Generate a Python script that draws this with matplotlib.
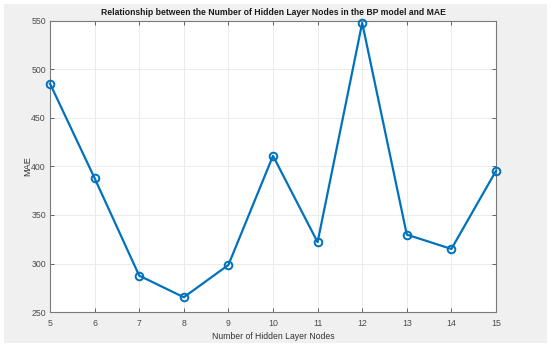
import matplotlib.pyplot as plt
from matplotlib.patches import Rectangle

plt.rcParams['font.family'] = ['Liberation Sans', 'DejaVu Sans']

# hidden layer nodes vs MAE
nodes = [5, 6, 7, 8, 9, 10, 11, 12, 13, 14, 15]
mae = [485.5, 388, 287.5, 265.2, 298.5, 411, 322, 548, 329.8, 315, 395.5]
xticks = list(range(5, 16))
yticks = [250, 300, 350, 400, 450, 500, 550]

fig = plt.figure(figsize=(5.5, 3.47), dpi=100, facecolor='white')
# matlab grey figure panel with a thin white border
fig.patches.append(Rectangle((4 / 550, 4 / 347), 543 / 550, 339 / 347,
                             transform=fig.transFigure, facecolor='#f0f0f0',
                             edgecolor='none', zorder=-10))

ax = fig.add_axes([50 / 550, 1 - 312 / 347, 446 / 550, 291 / 347])
ax.set_facecolor('white')
ax.plot(nodes, mae, color='#0072BD', lw=1.6, marker='o', ms=5.5,
        mfc='none', mew=1.4, clip_on=False, zorder=3)

ax.set_xlim(5, 15)
ax.set_ylim(250, 550)
ax.set_xticks(xticks)
ax.set_yticks(yticks)
ax.grid(True, color='#ebebeb', lw=0.7)
ax.set_axisbelow(True)
ax.tick_params(direction='in', top=True, right=True, length=3, width=0.6,
               colors='#4d4d4d', labelsize=6.3, labelcolor='#4d4d4d')
ax.tick_params(axis='x', pad=5)
ax.tick_params(axis='y', pad=3)
for s in ax.spines.values():
    s.set_color('#7a7a7a')
    s.set_linewidth(0.8)

ax.set_xlabel('Number of Hidden Layer Nodes', fontsize=6.2, color='#333333', labelpad=3)
ax.set_ylabel('MAE', fontsize=6.6, color='#333333', labelpad=-1)
ax.set_title('Relationship between the Number of Hidden Layer Nodes in the BP model and MAE',
             fontsize=6.2, fontweight='bold', color='#1a1a1a', pad=4)

fig.savefig('out.png', dpi=100, facecolor=fig.get_facecolor())
